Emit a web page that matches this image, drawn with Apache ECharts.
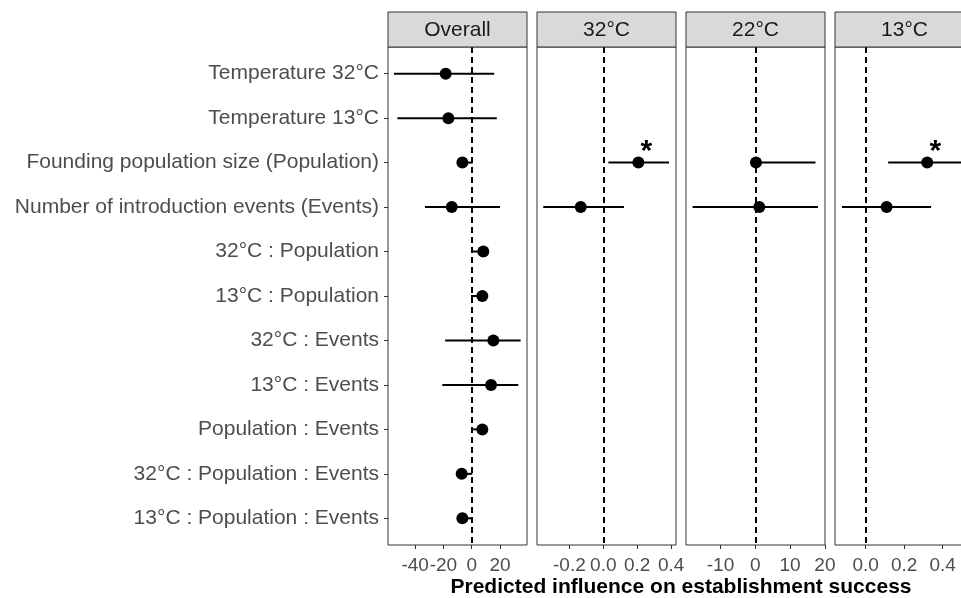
<!DOCTYPE html>
<html>
<head>
<meta charset="utf-8">
<title>Predicted influence on establishment success</title>
<script src="https://cdn.jsdelivr.net/npm/echarts@6/dist/echarts.min.js"></script>
<style>
html, body { margin: 0; padding: 0; background: #fff; }
.chart { width: 961px; height: 598px; }
</style>
</head>
<body>
<div class="chart"></div>
<script>
// 行名（从上到下）
var rows = [
  'Temperature 32°C',
  'Temperature 13°C',
  'Founding population size (Population)',
  'Number of introduction events (Events)',
  '32°C : Population',
  '13°C : Population',
  '32°C : Events',
  '13°C : Events',
  'Population : Events',
  '32°C : Population : Events',
  '13°C : Population : Events'
];
var panelNames = ['Overall', '32°C', '22°C', '13°C'];

// Overall 面板
var overallEst = [-18.4, -16.5, -6.6, -14.1, 8.2, 7.5, 15.3, 13.7, 7.5, -7.1, -6.6];
var overallLo  = [-55, -52.6, -9, -33, 0.2, -0.5, -18.8, -20.8, 0, -9, -9];
var overallHi  = [15.9, 17.7, 0.7, 20, 11, 10, 34.6, 32.9, 10, 0.4, 0.7];
// 32°C 面板
var t32Est = [null, null, 0.207, -0.133, null, null, null, null, null, null, null];
var t32Lo  = [null, null, 0.03, -0.354, null, null, null, null, null, null, null];
var t32Hi  = [null, null, 0.388, 0.122, null, null, null, null, null, null, null];
// 22°C 面板
var t22Est = [null, null, 0.2, 1.15, null, null, null, null, null, null, null];
var t22Lo  = [null, null, -1, -18, null, null, null, null, null, null, null];
var t22Hi  = [null, null, 17.3, 18, null, null, null, null, null, null, null];
// 13°C 面板
var t13Est = [null, null, 0.32, 0.109, null, null, null, null, null, null, null];
var t13Lo  = [null, null, 0.117, -0.123, null, null, null, null, null, null, null];
var t13Hi  = [null, null, 0.526, 0.34, null, null, null, null, null, null, null];
// 显著性标记（*）所在的行
var overallSig = [];
var t32Sig = [2];
var t22Sig = [];
var t13Sig = [2];

// 刻度
var overallTicks = [-40, -20, 0, 20];
var t32Ticks = [-0.2, 0, 0.2, 0.4];
var t22Ticks = [-10, 0, 10, 20];
var t13Ticks = [0, 0.2, 0.4];

(function () {
  var myChart = echarts.init(document.querySelector('.chart'));
  var font = '"Liberation Sans", Arial, sans-serif';
  var rowIdx = rows.map(function (r, i) { return i; });

  var panels = [
    { est: overallEst, lo: overallLo, hi: overallHi, sig: overallSig, ticks: overallTicks, min: -59.2, max: 39.1, dec: 0 },
    { est: t32Est, lo: t32Lo, hi: t32Hi, sig: t32Sig, ticks: t32Ticks, min: -0.391, max: 0.429, dec: 1 },
    { est: t22Est, lo: t22Lo, hi: t22Hi, sig: t22Sig, ticks: t22Ticks, min: -19.9, max: 20.03, dec: 0 },
    { est: t13Est, lo: t13Lo, hi: t13Hi, sig: t13Sig, ticks: t13Ticks, min: -0.159, max: 0.563, dec: 1 }
  ];

  var grid = [], xAxis = [], yAxis = [], series = [], graphic = [];

  panels.forEach(function (p, i) {
    var left = 388 + i * 149;
    grid.push({
      left: left, top: 47, width: 139, height: 498,
      outerBoundsMode: 'none', containLabel: false,
      show: true, borderColor: '#333', borderWidth: 1, backgroundColor: 'transparent'
    });
    xAxis.push({
      type: 'value', gridIndex: i, min: p.min, max: p.max,
      axisLine: { show: false, onZero: false },
      splitLine: { show: false },
      axisTick: { show: true, length: 4, customValues: p.ticks, lineStyle: { color: '#333', width: 1 } },
      axisLabel: {
        customValues: p.ticks, color: '#4d4d4d', fontSize: 19, fontFamily: font, margin: 11,
        formatter: function (v) { return p.dec ? v.toFixed(1) : String(v); }
      }
    });
    yAxis.push({
      type: 'value', gridIndex: i, inverse: true, min: -0.6, max: 10.6,
      show: i === 0,
      axisLine: { show: false, onZero: false },
      splitLine: { show: false },
      axisTick: { show: true, length: 4, customValues: rowIdx, lineStyle: { color: '#333', width: 1 } },
      axisLabel: {
        customValues: rowIdx, color: '#4d4d4d', fontSize: 21, fontFamily: font, margin: 9,
        formatter: function (v) { return rows[v]; }
      }
    });

    var bars = [], pts = [];
    p.est.forEach(function (e, r) {
      if (e === null) return;
      bars.push([p.lo[r], r, p.hi[r]]);
      var item = { value: [e, r] };
      if (p.sig.indexOf(r) >= 0) {
        item.label = {
          show: true, formatter: '*', position: 'inside', offset: [8, -11],
          fontSize: 30, fontWeight: 'bold', color: '#000', fontFamily: font
        };
      }
      pts.push(item);
    });

    // 误差线 + 0 参考虚线
    series.push({
      type: 'custom', xAxisIndex: i, yAxisIndex: i, z: 2, silent: true,
      encode: { x: [0, 2], y: 1 },
      data: bars,
      renderItem: function (params, api) {
        var a = api.coord([api.value(0), api.value(1)]);
        var b = api.coord([api.value(2), api.value(1)]);
        return {
          type: 'line',
          shape: { x1: a[0], y1: a[1], x2: b[0], y2: b[1] },
          style: { stroke: '#000', lineWidth: 2 }
        };
      },
      markLine: {
        silent: true, symbol: ['none', 'none'], label: { show: false },
        lineStyle: { type: [6, 4], color: '#000', width: 2 },
        data: [{ xAxis: 0 }]
      }
    });
    // 点估计
    series.push({
      type: 'scatter', xAxisIndex: i, yAxisIndex: i, z: 3, silent: true,
      symbolSize: 12, itemStyle: { color: '#000', opacity: 1 },
      data: pts
    });

    // 分面标题条
    graphic.push({
      type: 'rect', z: 10,
      shape: { x: left, y: 12, width: 139, height: 35 },
      style: { fill: '#d9d9d9', stroke: '#333', lineWidth: 1 }
    });
    graphic.push({
      type: 'text', z: 11, x: left + 69.5, y: 30,
      style: {
        text: panelNames[i], fill: '#1a1a1a', fontSize: 21, fontFamily: font,
        align: 'center', verticalAlign: 'middle', textAlign: 'center', textVerticalAlign: 'middle'
      }
    });
  });

  // x 轴标题
  graphic.push({
    type: 'text', z: 11, x: 681, y: 587,
    style: {
      text: 'Predicted influence on establishment success', fill: '#000',
      fontSize: 21, fontWeight: 'bold', fontFamily: font,
      align: 'center', verticalAlign: 'middle', textAlign: 'center', textVerticalAlign: 'middle'
    }
  });

  var option = {
    animation: false,
    backgroundColor: '#fff',
    grid: grid,
    xAxis: xAxis,
    yAxis: yAxis,
    series: series,
    graphic: graphic
  };
  myChart.setOption(option);
  window.addEventListener('resize', function () {
    myChart.resize();
  });
})();
</script>
</body>
</html>
